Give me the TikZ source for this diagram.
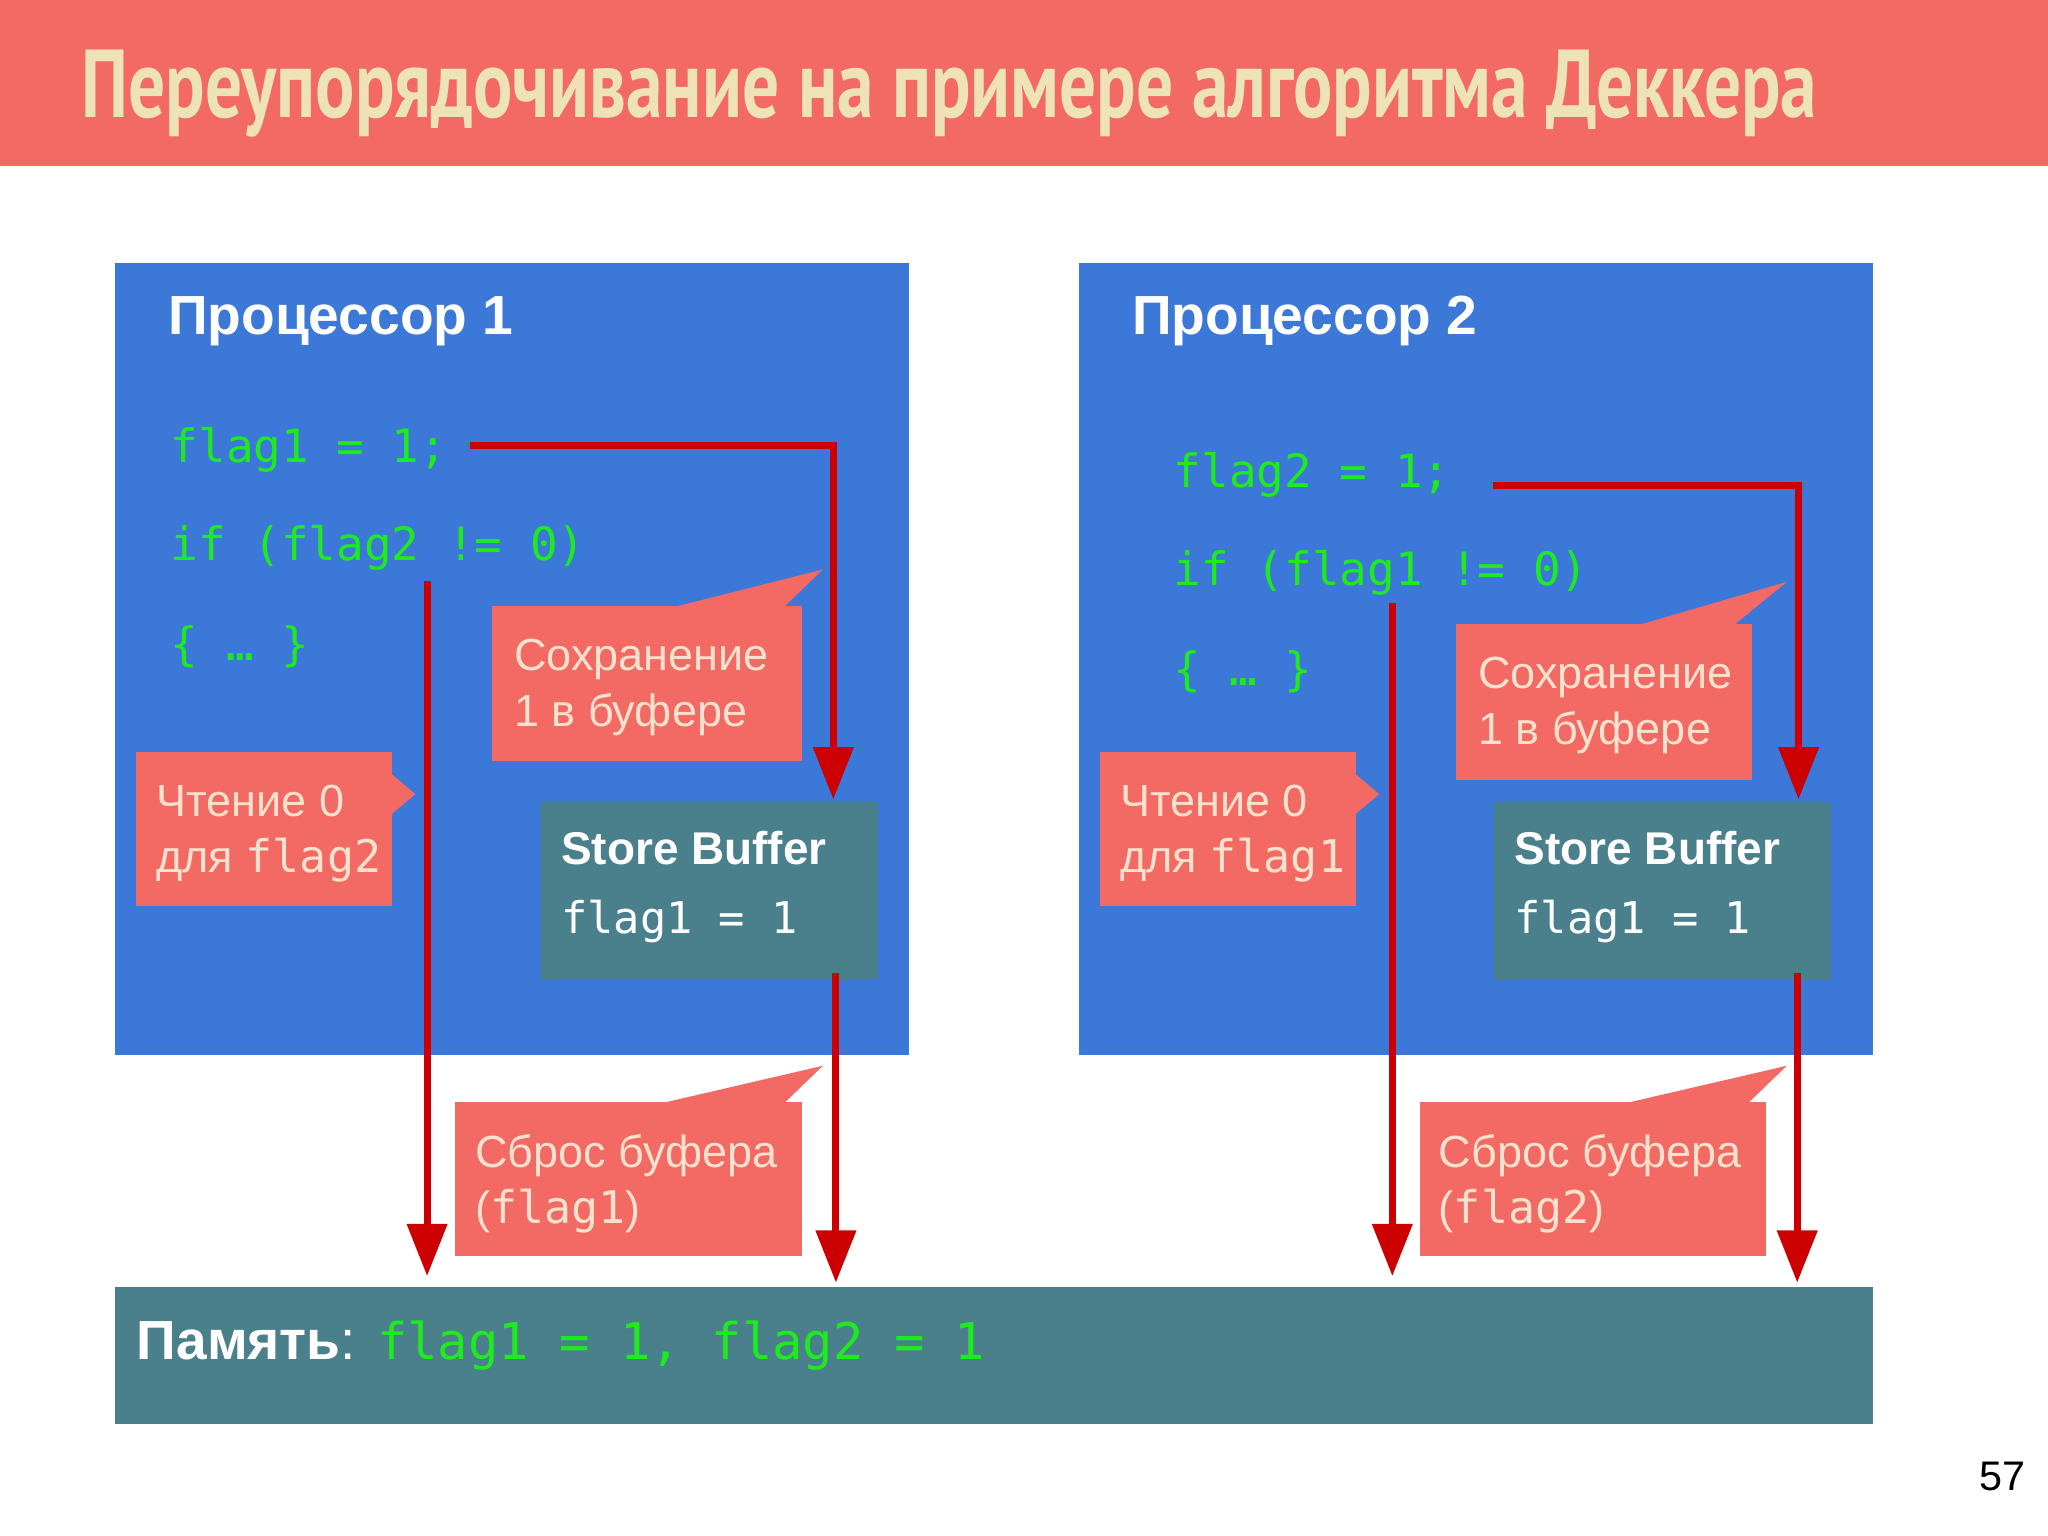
\documentclass[tikz,border=0pt]{standalone}
\usepackage{fontspec}
\setmainfont{Liberation Sans}
\newfontfamily\titlef{PT Sans}
\newfontfamily\codef{DejaVu Sans Mono}
\usetikzlibrary{arrows.meta}
\definecolor{hdr}{RGB}{242,106,99}
\definecolor{cream}{RGB}{237,227,182}
\definecolor{blu}{RGB}{60,120,216}
\definecolor{teal}{RGB}{74,128,140}
\definecolor{grn}{RGB}{30,235,30}
\definecolor{rln}{RGB}{204,0,0}
\definecolor{peach}{RGB}{250,225,205}
\tikzset{
 x=0.01cm,y=-0.01cm,
 txt/.style={anchor=base west,inner sep=0},
 code/.style={txt,font=\codef\fontsize{10}{12}\selectfont,text=grn},
 head/.style={txt,font=\bfseries\fontsize{12}{14}\selectfont,text=white},
 call/.style={fill=hdr,draw=none},
 ctext/.style={txt,font=\fontsize{9.8}{14}\selectfont,text=peach,align=left},
 rl/.style={draw=rln,line width=1.5pt},
 ar/.style={rl,-{Triangle[width=3mm,length=4mm]}},
}
\begin{document}
\begin{tikzpicture}
\useasboundingbox (0,0) rectangle (1568,1176);
\fill[hdr] (0,0) rectangle (1568,127);
\node[txt,text=cream,font=\titlef\bfseries\fontsize{21}{24}\selectfont] (title) at (62,90) {\scalebox{0.76}[1]{Переупорядочивание на примере алгоритма Деккера}};
\node[txt,font=\fontsize{9}{10}\selectfont] (pg) at (1515,1141) {57};
% memory
\fill[teal] (88,985) rectangle (1434,1090);
\node[txt,font=\bfseries\fontsize{12}{14}\selectfont,text=white] (mem) at (104,1041) {Память\textmd{:}};
\node[code,font=\codef\fontsize{11}{12}\selectfont] (memc) at (288,1041) {flag1 = 1, flag2 = 1};
\foreach \o/\n/\fa/\fb/\cy/\cx/\sx/\cya/\cyb/\sr in {0/1/1/2/0/0/0/464/583/0,738/2/2/1/19/30/-8/478/597/-11}{
 \begin{scope}[xshift=\o*0.01cm]
 \fill[blu] (88,201) rectangle (696,808);
 \node[head] (p\n) at (128,256) {Процессор \n};
 \node[code] (c1\n) at (130+\cx,354+\cy) {flag\fa{} = 1;};
 \node[code] (c2\n) at (130+\cx,429+\cy) {if (flag\fb{} != 0)};
 \node[code] (c3\n) at (130+\cx,506+\cy) {\{ … \}};
 % callout save
 \fill[call] (377,\cya) rectangle (614+\sr,\cyb);
 \fill[call] (515,\cya+1) -- (630,436+\cy/2) -- (600+\sr,\cya+1) -- cycle;
 \node[ctext] (s\n) at (393,\cya+49) {Сохранение};
 \node[ctext] (s2\n) at (393,\cya+92) {1 в буфере};
 % read
 \fill[call] (104,576) rectangle (300,694);
 \fill[call] (299,592) -- (318,608) -- (299,624) -- cycle;
 \node[ctext] (r\n) at (119,625) {Чтение 0};
 \node[ctext] (r2\n) at (119,668) {для {\codef flag\fb}};
 % store buffer
 \fill[teal] (414+\sx,614) rectangle (672+\sx,750);
 \node[head,font=\bfseries\fontsize{10}{12}\selectfont] (sb\n) at (429+\sx,662) {Store Buffer};
 \node[code,text=white,font=\codef\fontsize{9.5}{12}\selectfont] (sbc\n) at (429+\sx,715) {flag1 = 1};
 % flush
 \fill[call] (348+\o/738,844) rectangle (614,962);
 \fill[call] (505,845) -- (630,816) -- (600,845) -- cycle;
 \node[ctext] (f\n) at (363,894) {Сброс буфера};
 \node[ctext] (f2\n) at (363,937) {({\codef flag\n})};
 \end{scope}
}
% red lines processor 1
\coordinate (a1) at (360,341); \coordinate (b1) at (638,341); \coordinate (e1) at (638,612);
\draw[ar] (a1) -- (b1) -- (e1);
\coordinate (v1) at (327,445); \coordinate (w1) at (327,977);
\draw[ar] (v1) -- (w1);
\coordinate (x1) at (640,745); \coordinate (y1) at (640,982);
\draw[ar] (x1) -- (y1);
% processor 2
\coordinate (a2) at (1143,372); \coordinate (b2) at (1377,372); \coordinate (e2) at (1377,612);
\draw[ar] (a2) -- (b2) -- (e2);
\coordinate (v2) at (1066,462); \coordinate (w2) at (1066,977);
\draw[ar] (v2) -- (w2);
\coordinate (x2) at (1376,745); \coordinate (y2) at (1376,982);
\draw[ar] (x2) -- (y2);
\end{tikzpicture}
\end{document}
